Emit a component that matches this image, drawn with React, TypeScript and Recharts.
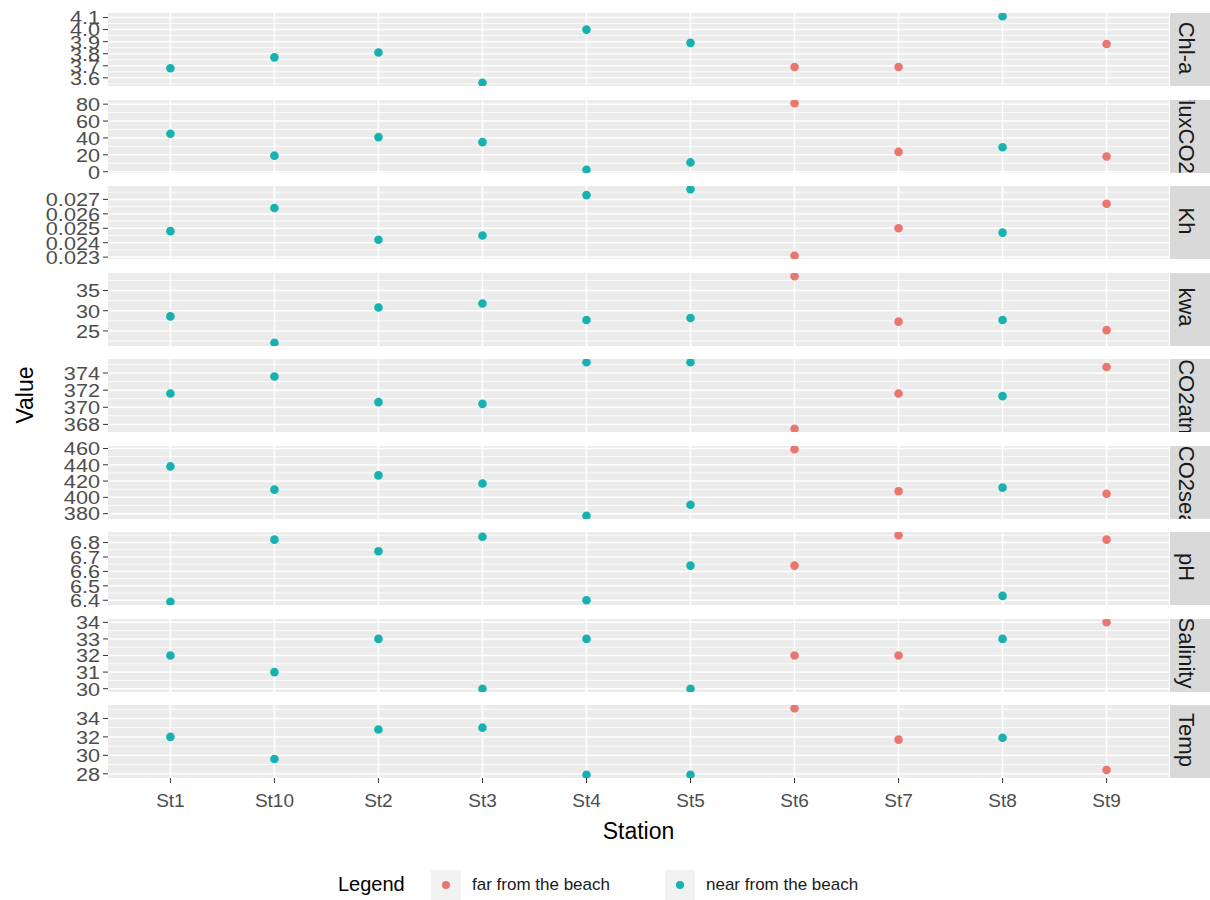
import { CartesianGrid, Scatter, ScatterChart, XAxis, YAxis } from "recharts"

// stations in the order ggplot sorted them (alphabetical)
const stations = ["St1", "St10", "St2", "St3", "St4", "St5", "St6", "St7", "St8", "St9"]
const groups = ["near", "near", "near", "near", "near", "near", "far", "far", "near", "far"]

const chla = [3.68, 3.77, 3.81, 3.56, 4.0, 3.89, 3.69, 3.69, 4.11, 3.88]
const fluxCO2 = [45, 19, 41, 35, 2.4, 11, 81, 23.5, 29, 18]
const kh = [0.0248, 0.0264, 0.0242, 0.0245, 0.0273, 0.0277, 0.0231, 0.025, 0.0247, 0.0267]
const kwa = [28.6, 22.1, 30.8, 31.8, 27.7, 28.2, 38.5, 27.3, 27.7, 25.2]
const pco2atm = [371.6, 373.6, 370.6, 370.4, 375.25, 375.25, 367.5, 371.6, 371.3, 374.7]
const pco2sea = [438, 409.5, 427, 417, 377.5, 391, 459, 407.5, 412, 404.5]
const ph = [6.39, 6.82, 6.74, 6.84, 6.4, 6.64, 6.64, 6.85, 6.43, 6.82]
const salinity = [32, 31, 33, 30, 33, 30, 32, 32, 33, 34]
const temp = [32.0, 29.6, 32.8, 33.0, 27.9, 27.9, 35.1, 31.7, 31.9, 28.4]

const chlaTicks = [3.6, 3.7, 3.8, 3.9, 4.0, 4.1]
const fluxTicks = [0, 20, 40, 60, 80]
const khTicks = [0.023, 0.024, 0.025, 0.026, 0.027]
const kwaTicks = [25, 30, 35]
const atmTicks = [368, 370, 372, 374]
const seaTicks = [380, 400, 420, 440, 460]
const phTicks = [6.4, 6.5, 6.6, 6.7, 6.8]
const salTicks = [30, 31, 32, 33, 34]
const tempTicks = [28, 30, 32, 34]

const FAR = "#E9776F"
const NEAR = "#16B2B1"
const FONT = "'Liberation Sans', Arial, sans-serif"

const PANEL_TOP = 13
const PANEL_H = 73
const PANEL_STEP = 86.5
const PAD = 8
const PLOT_LEFT = 108
const PLOT_RIGHT = 1169
const X_AXIS_H = 36

const xTicks = stations.map((_, i) => i + 1)

const panels = [
  { name: "Chl-a", values: chla, ticks: chlaTicks, fmt: (v: number) => v.toFixed(1) },
  { name: "fluxCO2", values: fluxCO2, ticks: fluxTicks, fmt: (v: number) => String(v) },
  { name: "Kh", values: kh, ticks: khTicks, fmt: (v: number) => v.toFixed(3) },
  { name: "kwa", values: kwa, ticks: kwaTicks, fmt: (v: number) => String(v) },
  { name: "pCO2atm", values: pco2atm, ticks: atmTicks, fmt: (v: number) => String(v) },
  { name: "pCO2sea", values: pco2sea, ticks: seaTicks, fmt: (v: number) => String(v) },
  { name: "pH", values: ph, ticks: phTicks, fmt: (v: number) => v.toFixed(1) },
  { name: "Salinity", values: salinity, ticks: salTicks, fmt: (v: number) => String(v) },
  { name: "Temp", values: temp, ticks: tempTicks, fmt: (v: number) => String(v) },
]

// ggplot's default 5% expansion on continuous scales
function expand(values: number[]): [number, number] {
  const lo = Math.min(...values)
  const hi = Math.max(...values)
  const r = hi - lo
  return [lo - r * 0.05, hi + r * 0.05]
}

// minor gridlines sit halfway between the breaks
function minorValues(ticks: number[], [lo, hi]: [number, number]) {
  const step = ticks[1] - ticks[0]
  const out: number[] = []
  for (let v = ticks[0] - step / 2; v <= hi; v += step) {
    if (v >= lo) out.push(v)
  }
  return out
}

const dot = (color: string) => (props: any) =>
  <circle cx={props.cx} cy={props.cy} r={4.3} fill={color} />

// the source render has slightly wide y labels, stretch them a bit
const yTick = (fmt: (v: number) => string) => (props: any) => (
  <g transform={`translate(${props.x},${props.y})`}>
    <text transform="scale(1.14,1)" textAnchor="end" dy="0.36em" fontSize={19} fill="#4D4D4D">
      {fmt(props.payload.value)}
    </text>
  </g>
)

function Panel({ index }: { index: number }) {
  const p = panels[index]
  const last = index === panels.length - 1
  const top = PANEL_TOP + index * PANEL_STEP
  const domain = expand(p.values)
  const rows = stations.map((s, i) => ({ x: i + 1, y: p.values[i], station: s, group: groups[i] }))
  const far = rows.filter((r) => r.group === "far")
  const near = rows.filter((r) => r.group === "near")

  return (
    <>
      <div style={{ position: "absolute", left: 0, top: top - PAD }}>
        <ScatterChart
          width={1210}
          height={PANEL_H + PAD * 2 + (last ? X_AXIS_H : 0)}
          margin={{ top: PAD, right: 1210 - PLOT_RIGHT, bottom: PAD, left: 0 }}
        >
          <CartesianGrid
            horizontalValues={minorValues(p.ticks, domain)}
            vertical={false}
            stroke="#fff"
            strokeWidth={0.8}
            fill="#EBEBEB"
            fillOpacity={1}
          />
          <CartesianGrid horizontalValues={p.ticks} verticalValues={xTicks} stroke="#fff" strokeWidth={1.5} />
          <XAxis
            type="number"
            dataKey="x"
            domain={[0.4, 10.6]}
            ticks={xTicks}
            interval={0}
            hide={!last}
            height={X_AXIS_H}
            axisLine={false}
            tickSize={5}
            tickMargin={11}
            tickLine={{ stroke: "#333" }}
            tick={{ fontSize: 19, fill: "#4D4D4D" }}
            tickFormatter={(v) => stations[v - 1]}
          />
          <YAxis
            type="number"
            dataKey="y"
            domain={domain}
            allowDataOverflow
            ticks={p.ticks}
            interval={0}
            width={PLOT_LEFT}
            axisLine={false}
            tickSize={5}
            tickMargin={3}
            tickLine={{ stroke: "#333" }}
            tick={yTick(p.fmt)}
          />
          <Scatter name="far from the beach" data={far} shape={dot(FAR)} isAnimationActive={false} />
          <Scatter name="near from the beach" data={near} shape={dot(NEAR)} isAnimationActive={false} />
        </ScatterChart>
      </div>
      <div
        style={{
          position: "absolute",
          left: PLOT_RIGHT + 1,
          top,
          width: 1210 - PLOT_RIGHT - 1,
          height: PANEL_H,
          background: "#D9D9D9",
          overflow: "hidden",
        }}
      >
        <span
          style={{
            position: "absolute",
            left: 16,
            top: "calc(50% - 2px)",
            transform: "translate(-50%, -50%) rotate(90deg)",
            whiteSpace: "nowrap",
            fontSize: 22,
            color: "#1A1A1A",
            lineHeight: 1,
          }}
        >
          {p.name}
        </span>
      </div>
    </>
  )
}

function LegendKey({ color, label, left }: { color: string; label: string; left: number }) {
  return (
    <>
      <div style={{ position: "absolute", left: left - 15, top: 870, width: 30, height: 30, background: "#F2F2F2" }} />
      <div
        style={{
          position: "absolute",
          left: left - 4,
          top: 881,
          width: 8,
          height: 8,
          borderRadius: "50%",
          background: color,
        }}
      />
      <div style={{ position: "absolute", left: left + 26, top: 875, fontSize: 17, lineHeight: "20px", color: "#1A1A1A" }}>
        {label}
      </div>
    </>
  )
}

export default function App() {
  return (
    <div
      style={{
        position: "absolute",
        left: 0,
        top: 0,
        width: 1210,
        height: 900,
        background: "#fff",
        fontFamily: FONT,
        overflow: "hidden",
      }}
    >
      {panels.map((p, i) => (
        <Panel key={p.name} index={i} />
      ))}
      <div
        style={{
          position: "absolute",
          left: 25,
          top: 395,
          transform: "translate(-50%, -50%) rotate(-90deg)",
          fontSize: 23,
          whiteSpace: "nowrap",
          color: "#000",
        }}
      >
        Value
      </div>
      <div
        style={{
          position: "absolute",
          left: (PLOT_LEFT + PLOT_RIGHT) / 2,
          top: 831,
          transform: "translate(-50%, -50%)",
          fontSize: 23,
          color: "#000",
        }}
      >
        Station
      </div>
      <div style={{ position: "absolute", left: 338, top: 872, fontSize: 20, lineHeight: "24px", color: "#000" }}>
        Legend
      </div>
      <LegendKey color={FAR} label="far from the beach" left={446} />
      <LegendKey color={NEAR} label="near from the beach" left={680} />
    </div>
  )
}
